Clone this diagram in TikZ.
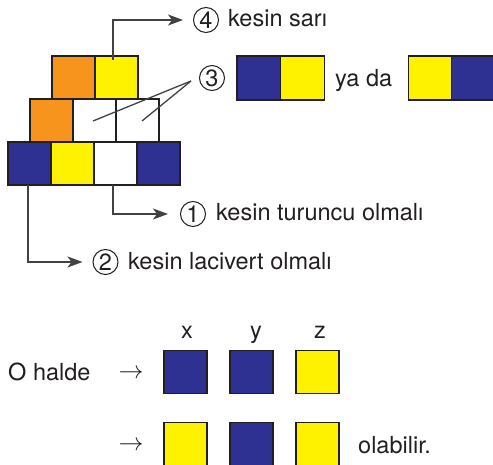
\documentclass[tikz,border=0pt]{standalone}
\usepackage{fontspec}
\setmainfont{TeX Gyre Heros}
\usetikzlibrary{arrows.meta}
\definecolor{navy}{HTML}{2E3192}
\definecolor{yel}{HTML}{FFF200}
\definecolor{org}{HTML}{F7941D}
\definecolor{ink}{HTML}{231F20}
\begin{document}
\begin{tikzpicture}[x=1pt,y=-1pt,
  font=\fontsize{23.5}{28}\selectfont, text=ink,
  sq/.style={draw=ink, line width=1.6pt, minimum size=43pt, inner sep=0pt},
  sqn/.style={sq, fill=navy},
  sqy/.style={sq, fill=yel},
  sqo/.style={sq, fill=org},
  sqw/.style={sq, fill=white},
  circnum/.style={draw=ink, circle, line width=1pt, minimum size=25pt, inner sep=0pt},
  lbl/.style={anchor=base west, inner sep=0pt},
  conn/.style={draw=ink!85, line width=1.3pt},
  arr/.style={conn, -{Stealth[length=15pt,width=11pt,inset=4pt]}}]
\useasboundingbox (0,0) rectangle (493,465);

% pyramid
\node[sqo] (t1) at (73.5,77.5) {};
\node[sqy] (t2) at (116.5,77.5) {};
\node[sqo] (m1) at (51.5,120.5) {};
\node[sqw] (m2) at (94.5,120.5) {};
\node[sqw] (m3) at (137.5,120.5) {};
\node[sqn] (b1) at (29.5,163.5) {};
\node[sqy] (b2) at (72.5,163.5) {};
\node[sqw] (b3) at (115.5,163.5) {};
\node[sqn] (b4) at (158.5,163.5) {};

% label 4
\node[circnum] (c4) at (206,20) {4};
\node[lbl] (l4) at (228,27) {kesin sarı};
\coordinate (a4) at (113,60);
\draw[arr, shorten >=10pt] (a4) |- (c4);

% label 3
\node[circnum] (c3) at (212,78) {3};
\coordinate (p3) at (191,81);
\coordinate (q2) at (93,121);
\coordinate (q3) at (142,121);
\draw[conn] (p3) -- (q2);
\draw[conn] (p3) -- (q3);
\node[sqn, minimum size=44pt] (r1) at (259,78) {};
\node[sqy, minimum size=44pt] (r2) at (302.5,78) {};
\node[lbl] (yada) at (335,87) {ya da};
\node[sqy, minimum size=44pt] (r3) at (430.5,78) {};
\node[sqn, minimum size=44pt] (r4) at (473.5,78) {};

% label 1
\node[circnum] (c1) at (193,214) {1};
\node[lbl] (l1) at (216,221) {kesin turuncu olmalı};
\coordinate (a1) at (113,185);
\draw[arr, shorten >=12pt] (a1) |- (c1);

% label 2
\node[circnum] (c2) at (105.5,262) {2};
\node[lbl] (l2) at (128,270) {kesin lacivert olmalı};
\coordinate (a2) at (28,185);
\draw[arr, shorten >=10pt] (a2) |- (c2);

% bottom part
\node[anchor=base, inner sep=0pt] (lx) at (187,338) {x};
\node[anchor=base, inner sep=0pt] (ly) at (256,338) {y};
\node[anchor=base, inner sep=0pt] (lz) at (320,338) {z};
\node[lbl] (oh) at (8,381) {O halde};
\node (ar1) at (131,374) {$\rightarrow$};
\node (ar2) at (131,446) {$\rightarrow$};
\node[sqn] (x1) at (185.5,372) {};
\node[sqn] (y1) at (251.5,372) {};
\node[sqy] (z1) at (317.5,372) {};
\node[sqy] (x2) at (185.5,444) {};
\node[sqn] (y2) at (251.5,444) {};
\node[sqy] (z2) at (317.5,444) {};
\node[lbl] (ol) at (358,453) {olabilir.};
\end{tikzpicture}
\end{document}
